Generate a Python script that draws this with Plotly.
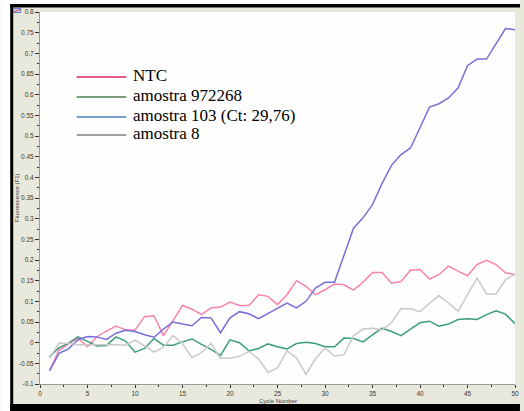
import plotly.graph_objects as go

# Amplification curves: fluorescence per PCR cycle
cycles = list(range(1, 51))

ntc = [-0.068, -0.018, -0.003, 0.011, -0.010, 0.015, 0.028, 0.040, 0.031, 0.030,
       0.063, 0.065, 0.017, 0.054, 0.090, 0.081, 0.068, 0.084, 0.086, 0.098,
       0.090, 0.090, 0.116, 0.112, 0.092, 0.116, 0.150, 0.136, 0.116, 0.128,
       0.142, 0.140, 0.127, 0.146, 0.170, 0.170, 0.144, 0.148, 0.175, 0.177,
       0.154, 0.165, 0.185, 0.173, 0.162, 0.189, 0.199, 0.189, 0.169, 0.165]

amostra_972268 = [-0.034, -0.012, -0.001, 0.014, 0.003, -0.008, -0.007, 0.014, 0.004, -0.023,
                  -0.014, 0.010, -0.006, -0.006, 0.002, 0.009, -0.004, -0.016, -0.031, 0.007,
                  0.000, -0.020, -0.014, -0.003, -0.010, -0.015, -0.002, 0.001, -0.002, -0.010,
                  -0.010, 0.011, 0.010, 0.002, 0.019, 0.035, 0.027, 0.017, 0.033, 0.048,
                  0.052, 0.040, 0.045, 0.056, 0.058, 0.056, 0.068, 0.077, 0.069, 0.046]

amostra_103 = [-0.068, -0.026, -0.015, 0.007, 0.015, 0.014, 0.008, 0.023, 0.030, 0.027,
               0.019, 0.013, 0.033, 0.050, 0.045, 0.041, 0.061, 0.060, 0.024, 0.060,
               0.075, 0.070, 0.058, 0.070, 0.084, 0.096, 0.084, 0.100, 0.132, 0.146,
               0.146, 0.210, 0.277, 0.302, 0.334, 0.385, 0.429, 0.455, 0.471, 0.520,
               0.570, 0.578, 0.592, 0.616, 0.670, 0.686, 0.686, 0.723, 0.760, 0.757]

amostra_8 = [-0.038, -0.001, -0.002, -0.005, -0.005, -0.005, -0.004, -0.005, -0.006, 0.006,
             -0.008, -0.023, -0.011, 0.017, -0.002, -0.036, -0.024, -0.002, -0.038, -0.038,
             -0.033, -0.021, -0.039, -0.072, -0.061, -0.020, -0.037, -0.077, -0.039, -0.013,
             -0.033, -0.029, 0.017, 0.033, 0.035, 0.031, 0.048, 0.082, 0.082, 0.075,
             0.095, 0.114, 0.096, 0.076, 0.116, 0.156, 0.118, 0.118, 0.152, 0.165]

series_names = ["NTC", "amostra 972268", "amostra 103 (Ct: 29,76)", "amostra 8"]
series_values = [ntc, amostra_972268, amostra_103, amostra_8]
curve_colors = ["#F982AC", "#3E9E7C", "#776FD8", "#C9C9C9"]
key_colors = ["#E2206C", "#4B7D4B", "#4C7EBA", "#7F7F7F"]

x_ticks = list(range(0, 51, 5))
y_ticks = [round(-0.1 + 0.05 * i, 2) for i in range(19)]
y_tick_text = [f"{v:g}" for v in y_ticks]

W, H = 524, 411
L, R, T, B = 40, 5, 12, 27
PW, PH = W - L - R, H - T - B


def px(x):
    return (x - L) / PW


def py(y):
    return (H - B - y) / PH


fig = go.Figure()
for name, vals, col in zip(series_names, series_values, curve_colors):
    fig.add_trace(go.Scatter(x=cycles, y=vals, mode="lines", name=name,
                             line=dict(color=col, width=1.5), showlegend=False))

tick_font = dict(family="Liberation Sans, Arial, sans-serif", size=6.5, color="#3A3A3A")

fig.update_xaxes(range=[0, 50], tickvals=x_ticks, ticks="outside", ticklen=3,
                 tickcolor="#333", tickfont=tick_font, showgrid=False, zeroline=False,
                 showline=True, linecolor="#9A9A9A", linewidth=1,
                 minor=dict(dtick=2.5, tick0=0, ticks="outside", ticklen=2, tickcolor="#333"))
fig.update_yaxes(range=[-0.1, 0.8], tickvals=y_ticks, ticktext=y_tick_text,
                 ticks="outside", ticklen=4, tickcolor="#333", tickfont=tick_font,
                 showgrid=False, zeroline=False, showline=True, linecolor="#9A9A9A",
                 linewidth=1,
                 minor=dict(dtick=0.025, tick0=0, ticks="outside", ticklen=2, tickcolor="#333"))

shapes = [
    # white surround outside the window frame
    dict(type="rect", xref="paper", yref="paper", x0=px(0), x1=px(10), y0=py(H), y1=py(0),
         fillcolor="white", line_width=0, layer="below"),
    dict(type="rect", xref="paper", yref="paper", x0=px(0), x1=px(W), y0=py(4), y1=py(0),
         fillcolor="white", line_width=0, layer="below"),
    # black window frame
    dict(type="rect", xref="paper", yref="paper", x0=px(10), x1=px(13), y0=py(H), y1=py(4),
         fillcolor="black", line_width=0),
    dict(type="rect", xref="paper", yref="paper", x0=px(10), x1=px(W), y0=py(7.5), y1=py(4),
         fillcolor="black", line_width=0),
    dict(type="rect", xref="paper", yref="paper", x0=px(10), x1=px(W), y0=py(H), y1=py(404),
         fillcolor="black", line_width=0),
    # small chart icon in the corner
    dict(type="rect", xref="paper", yref="paper", x0=px(13.5), x1=px(20.5), y0=py(12.5), y1=py(8.5),
         fillcolor="#D8DCF0", line=dict(color="#6A78C8", width=1)),
    dict(type="line", xref="paper", yref="paper", x0=px(14), x1=px(20), y0=py(11.5), y1=py(9.5),
         line=dict(color="#D03050", width=1)),
]

annotations = []
key_rows = [77, 97, 117, 135]
text_rows = [76, 95.5, 115.5, 133.5]
for name, col, ly, ty in zip(series_names, key_colors, key_rows, text_rows):
    shapes.append(dict(type="line", xref="paper", yref="paper", x0=px(77), x1=px(127),
                       y0=py(ly), y1=py(ly), line=dict(color=col, width=1.3)))
    annotations.append(dict(xref="paper", yref="paper", x=px(132), y=py(ty), text=name,
                            showarrow=False, xanchor="left", yanchor="middle",
                            font=dict(family="Liberation Serif, Times New Roman, serif",
                                      size=17, color="black")))

annotations.append(dict(xref="paper", yref="paper", x=px(279.5), y=py(400.5), text="Cycle Number",
                        showarrow=False, xanchor="center", yanchor="middle",
                        font=dict(family="Liberation Sans, Arial, sans-serif", size=6,
                                  color="#3A3A3A")))
annotations.append(dict(xref="paper", yref="paper", x=px(17), y=py(198), text="Fluorescence (F1)",
                        textangle=-90, showarrow=False, xanchor="center", yanchor="middle",
                        font=dict(family="Liberation Sans, Arial, sans-serif", size=6,
                                  color="#3A3A3A")))

fig.update_layout(width=W, height=H, margin=dict(l=L, r=R, t=T, b=B),
                  paper_bgcolor="#E9E8DC", plot_bgcolor="#FEFEFE",
                  shapes=shapes, annotations=annotations, showlegend=False)

fig.write_html("out.html")
